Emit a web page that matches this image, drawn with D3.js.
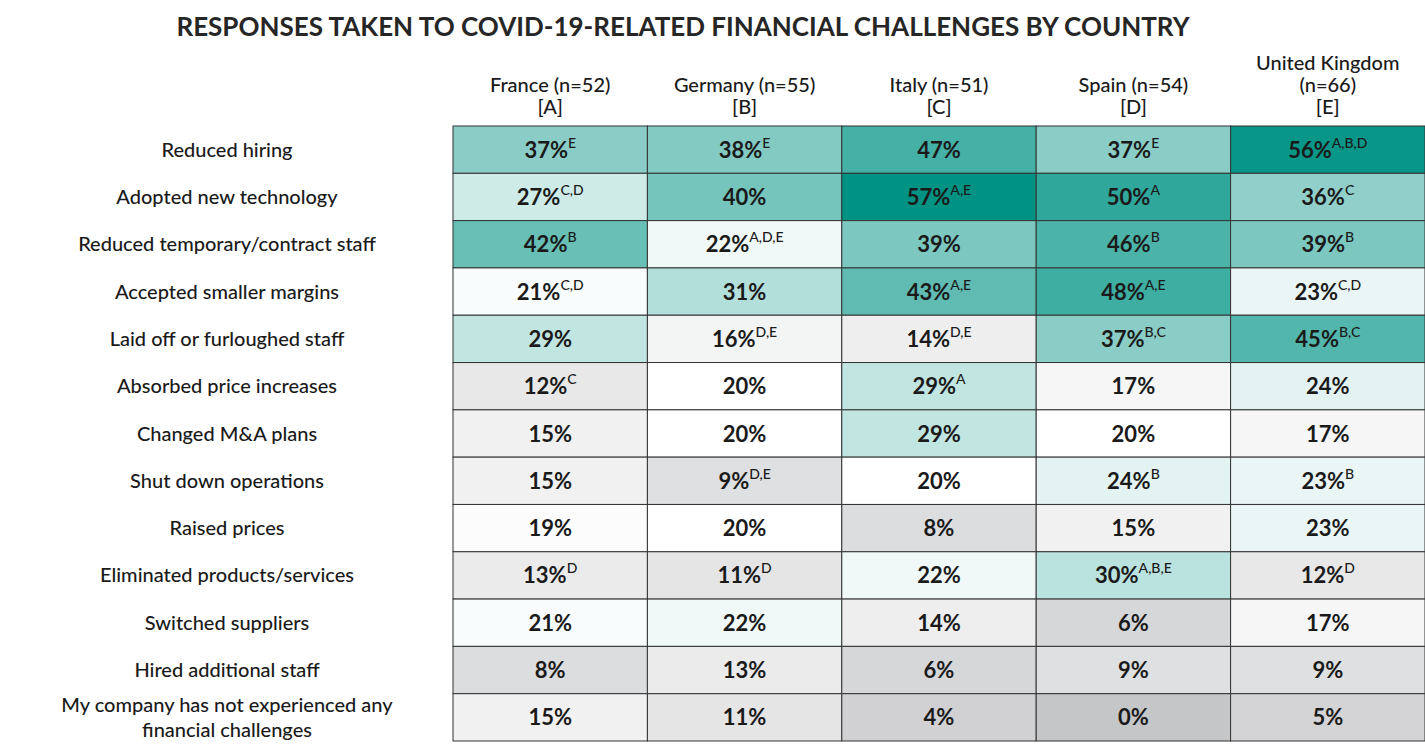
<!DOCTYPE html><html><head><meta charset="utf-8"><script src="https://cdn.jsdelivr.net/npm/d3@7"></script>
<style>body{margin:0;background:#fff}text{font-family:Lato,sans-serif;fill:#1a1a1a}</style></head><body><svg id="c" width="1425" height="752"></svg><script>
const title="RESPONSES  TAKEN TO COVID-19-RELATED FINANCIAL CHALLENGES BY COUNTRY";
const columns=[["France (n=52)","[A]"],["Germany (n=55)","[B]"],["Italy (n=51)","[C]"],["Spain (n=54)","[D]"],["United Kingdom","(n=66)","[E]"]];
const rows=[["Reduced hiring"],["Adopted new technology"],["Reduced temporary/contract staff"],["Accepted smaller margins"],["Laid off or furloughed staff"],["Absorbed price increases"],["Changed M&A plans"],["Shut down operations"],["Raised prices"],["Eliminated products/services"],["Switched suppliers"],["Hired additional staff"],["My company has not experienced any","financial challenges"]];
const values=[[37,38,47,37,56],[27,40,57,50,36],[42,22,39,46,39],[21,31,43,48,23],[29,16,14,37,45],[12,20,29,17,24],[15,20,29,20,17],[15,9,20,24,23],[19,20,8,15,23],[13,11,22,30,12],[21,22,14,6,17],[8,13,6,9,9],[15,11,4,0,5]];
const sig=[["E","E","","E","A,B,D"],["C,D","","A,E","A","C"],["B","A,D,E","","B","B"],["C,D","","A,E","A,E","C,D"],["","D,E","D,E","B,C","B,C"],["C","","A","",""],["","","","",""],["","D,E","","B","B"],["","","","",""],["D","D","","A,B,E","D"],["","","","",""],["","","","",""],["","","","",""]];
const svg=d3.select("#c");
svg.append("text").attr("x",683).attr("y",36).attr("text-anchor","middle").attr("font-size",26).attr("font-weight",700).style("fill","#262626").text(title);
const x=d3.scaleBand().domain(d3.range(5)).range([453,1425]);
const y=d3.scaleBand().domain(d3.range(rows.length)).range([126,741]);
const color=d3.scaleLinear().domain([0,20,57]).range(["#c5c6c8","#ffffff","#009384"]);
columns.forEach((c,i)=>{const n=c.length;c.forEach((l,k)=>svg.append("text").attr("x",x(i)+x.bandwidth()/2).attr("y",118-(n-1-k)*22-4).attr("text-anchor","middle").attr("font-size",20).attr("font-weight",500).text(l));});
rows.forEach((r,j)=>{const cy=y(j)+y.bandwidth()/2;r.forEach((l,k)=>svg.append("text").attr("x",227).attr("y",cy+7+(k-(r.length-1)/2)*25).attr("text-anchor","middle").attr("font-size",20).attr("font-weight",500).text(l));});
values.forEach((row,j)=>row.forEach((v,i)=>{
 svg.append("rect").attr("x",x(i)).attr("y",y(j)).attr("width",x.bandwidth()).attr("height",y.bandwidth()).attr("fill",color(v)).attr("stroke","#333").attr("stroke-width",1);
 const t=svg.append("text").attr("x",x(i)+x.bandwidth()/2).attr("y",y(j)+y.bandwidth()/2+8).attr("text-anchor","middle").attr("font-size",22).attr("font-weight",700);
 t.append("tspan").text(v+"%");
 if(sig[j][i]) t.append("tspan").attr("font-size",14).attr("dy",-10).attr("font-weight",500).text(sig[j][i]);
}));
</script></body></html>
